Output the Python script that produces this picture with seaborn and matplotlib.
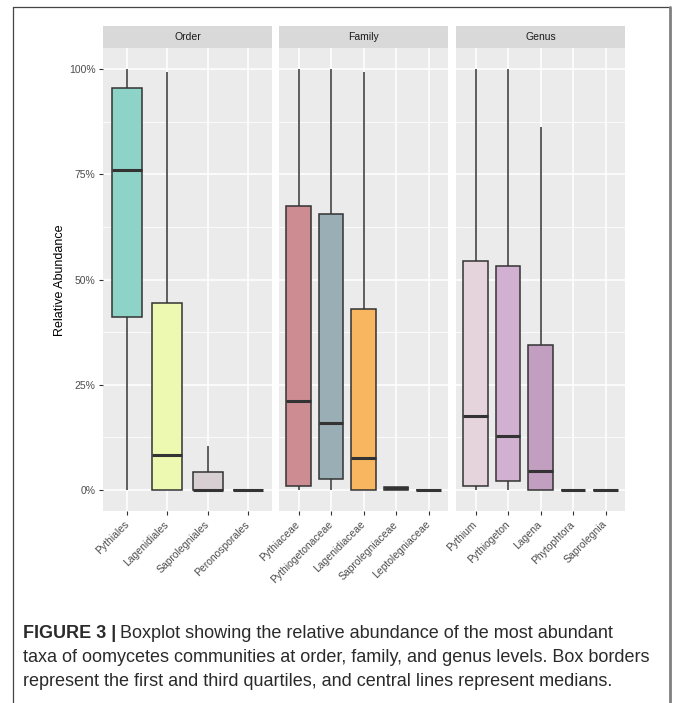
import numpy as np
import pandas as pd
import matplotlib.pyplot as plt
import seaborn as sns
from matplotlib.patches import Rectangle
from matplotlib.lines import Line2D
from matplotlib.ticker import FixedLocator, FuncFormatter

# five-number summaries (fraction of reads)
order_taxa = ['Pythiales', 'Lagenidiales', 'Saprolegniales', 'Peronosporales']
order_min = [0.0, 0.0, 0.0, 0.0]
order_q1 = [0.41, 0.0, 0.0, 0.0]
order_med = [0.760, 0.083, 0.0, 0.0]
order_q3 = [0.956, 0.443, 0.043, 0.0]
order_max = [1.0, 0.992, 0.105, 0.0]

family_taxa = ['Pythiaceae', 'Pythiogetonaceae', 'Lagenidiaceae',
               'Saprolegniaceae', 'Leptolegniaceae']
family_min = [0.0, 0.0, 0.0, 0.0, 0.0]
family_q1 = [0.010, 0.027, 0.0, 0.0, 0.0]
family_med = [0.212, 0.158, 0.077, 0.004, 0.0]
family_q3 = [0.674, 0.655, 0.431, 0.008, 0.0]
family_max = [1.0, 1.0, 0.992, 0.008, 0.0]

genus_taxa = ['Pythium', 'Pythiogeton', 'Lagena', 'Phytophtora', 'Saprolegnia']
genus_min = [0.0, 0.0, 0.0, 0.0, 0.0]
genus_q1 = [0.010, 0.021, 0.0, 0.0, 0.0]
genus_med = [0.175, 0.127, 0.044, 0.0, 0.0]
genus_q3 = [0.545, 0.533, 0.345, 0.0, 0.0]
genus_max = [1.0, 1.0, 0.863, 0.0, 0.0]

order_colors = ['#8DD3C7', '#EDF8B1', '#D8CFD2', '#BEBADA']
family_colors = ['#CD8B92', '#9AAEB5', '#F7B65F', '#A6D854', '#CCCCCC']
genus_colors = ['#E6D4DC', '#D1B0D1', '#C29EC0', '#CCCCCC', '#CCCCCC']


def long_table(taxa, lo, q1, med, q3, hi):
    rows = []
    for i, t in enumerate(taxa):
        for v in (lo[i], q1[i], med[i], q3[i], hi[i]):
            rows.append({'taxon': t, 'value': v})
    return pd.DataFrame(rows)


levels = [
    ('Order', order_taxa, long_table(order_taxa, order_min, order_q1, order_med, order_q3, order_max), order_colors),
    ('Family', family_taxa, long_table(family_taxa, family_min, family_q1, family_med, family_q3, family_max), family_colors),
    ('Genus', genus_taxa, long_table(genus_taxa, genus_min, genus_q1, genus_med, genus_q3, genus_max), genus_colors),
]

sns.set_theme(style='darkgrid')
plt.rcParams['font.family'] = ['Liberation Sans', 'DejaVu Sans']

W, H = 673, 703
fig = plt.figure(figsize=(W / 100, H / 100), dpi=100)
fig.patch.set_facecolor('white')

panel_x = [103, 279, 456]
panel_w = 169
top, bottom = 48, 511
strip_h = 22

for i, (name, taxa, df, cols) in enumerate(levels):
    ax = fig.add_axes([panel_x[i] / W, 1 - bottom / H, panel_w / W, (bottom - top) / H])
    ax.set_facecolor('#EBEBEB')
    sns.boxplot(data=df, x='taxon', y='value', hue='taxon', order=taxa, hue_order=taxa,
                palette=dict(zip(taxa, cols)), saturation=1, whis=(0, 100), width=0.75,
                linewidth=1.1, linecolor='#333333', showfliers=False, showcaps=False,
                medianprops=dict(linewidth=2.2, color='#333333'), legend=False, ax=ax)
    n = len(taxa)
    ax.set_xlim(-0.6, n - 0.4)
    ax.set_ylim(-0.05, 1.05)
    ax.set_yticks([0, 0.25, 0.5, 0.75, 1.0])
    ax.yaxis.set_major_formatter(FuncFormatter(lambda v, p: f'{v * 100:.0f}%'))
    ax.yaxis.set_minor_locator(FixedLocator([0.125, 0.375, 0.625, 0.875]))
    ax.grid(True, which='major', color='white', linewidth=1.1)
    ax.grid(True, which='minor', axis='y', color='white', linewidth=0.55)
    ax.xaxis.grid(True)
    ax.set_axisbelow(True)
    for s in ax.spines.values():
        s.set_visible(False)
    ax.set_xlabel('')
    ax.set_ylabel('')
    ax.set_xticks(range(n))
    ax.set_xticklabels(taxa, rotation=45, ha='right', va='center', rotation_mode='anchor')
    ax.tick_params(axis='both', which='major', length=3, width=0.8, color='#333333',
                   labelsize=7.5, labelcolor='#4D4D4D', pad=2.5, bottom=True, left=True)
    ax.tick_params(axis='x', pad=5.5)
    ax.tick_params(which='minor', length=0)
    if i > 0:
        ax.tick_params(axis='y', left=False, labelleft=False)

    # facet strip
    hfrac = strip_h / (bottom - top)
    ax.add_patch(Rectangle((0, 1), 1, hfrac, transform=ax.transAxes, facecolor='#D9D9D9',
                           edgecolor='none', clip_on=False))
    ax.text(0.5, 1 + hfrac / 2, name, transform=ax.transAxes, ha='center', va='center',
            fontsize=7.5, color='#1A1A1A')

fig.text(60 / W, 1 - 280 / H, 'Relative Abundance', rotation=90, ha='center', va='center',
         fontsize=9, color='black')

# outer frame of the figure box
fig.add_artist(Line2D([12.5 / W, 12.5 / W], [0, 1 - 6.5 / H], color='#444444', linewidth=0.9))
fig.add_artist(Line2D([12.5 / W, 670 / W], [1 - 6.5 / H, 1 - 6.5 / H], color='#444444', linewidth=0.9))
fig.add_artist(Line2D([669.5 / W, 669.5 / W], [0, 1 - 6.5 / H], color='#808080', linewidth=2.0))

# caption
cap_x = 23 / W
cap_size = 13
cap_color = '#2A2A2A'
bold = fig.text(cap_x, 1 - 634 / H, 'FIGURE 3 |', fontsize=cap_size, fontweight='bold',
                color=cap_color, va='center', ha='left')
fig.canvas.draw()
bb = bold.get_window_extent(renderer=fig.canvas.get_renderer())
fig.text(bb.x1 / W + 4 / W, 1 - 634 / H,
         'Boxplot showing the relative abundance of the most abundant',
         fontsize=cap_size, color=cap_color, va='center', ha='left')
fig.text(cap_x, 1 - 657 / H,
         'taxa of oomycetes communities at order, family, and genus levels. Box borders',
         fontsize=cap_size, color=cap_color, va='center', ha='left')
fig.text(cap_x, 1 - 681 / H,
         'represent the first and third quartiles, and central lines represent medians.',
         fontsize=cap_size, color=cap_color, va='center', ha='left')

fig.savefig('out.png', dpi=100)
